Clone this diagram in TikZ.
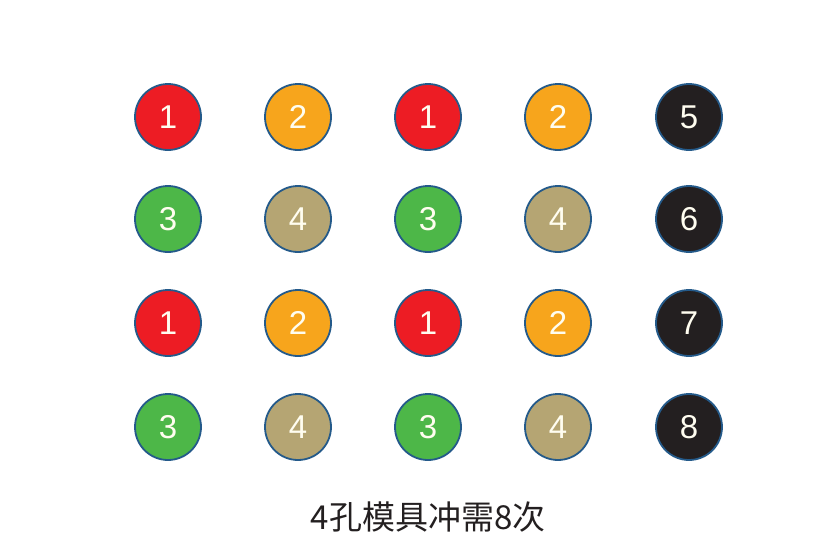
\documentclass[tikz,border=0pt]{standalone}
\usepackage{fontspec}
\setmainfont{Liberation Sans}
\newfontfamily\cjk{Noto Sans CJK SC}
\definecolor{cred}{HTML}{ED1C24}
\definecolor{corange}{HTML}{F7A51C}
\definecolor{cgreen}{HTML}{4DB748}
\definecolor{ckhaki}{HTML}{B5A573}
\definecolor{cblack}{HTML}{231F20}
\definecolor{cedge}{HTML}{245A8A}
\definecolor{ctext}{HTML}{FFFDF0}
\begin{document}
\begin{tikzpicture}[x=1pt,y=-1pt,
  ball/.style={circle,draw=cedge,line width=1.8pt,minimum size=66pt,inner sep=0pt,text=ctext,font=\fontsize{33}{33}\selectfont},
  captext/.style={font=\cjk\fontsize{33}{33}\selectfont,text=cblack}]
\useasboundingbox (0,0) rectangle (823,552);
\foreach \r/\y in {0/117,2/323}{
  \node[ball,fill=cred] (a\r1) at (168,\y) {1};
  \node[ball,fill=corange] (a\r2) at (298,\y) {2};
  \node[ball,fill=cred] (a\r3) at (428,\y) {1};
  \node[ball,fill=corange] (a\r4) at (558,\y) {2};
}
\foreach \r/\y in {1/219,3/427}{
  \node[ball,fill=cgreen] (a\r1) at (168,\y) {3};
  \node[ball,fill=ckhaki] (a\r2) at (298,\y) {4};
  \node[ball,fill=cgreen] (a\r3) at (428,\y) {3};
  \node[ball,fill=ckhaki] (a\r4) at (558,\y) {4};
}
\node[ball,fill=cblack] (b5) at (689,117) {5};
\node[ball,fill=cblack] (b6) at (689,219) {6};
\node[ball,fill=cblack] (b7) at (689,323) {7};
\node[ball,fill=cblack] (b8) at (689,427) {8};
\node[captext] (caption) at (428,517) {4孔模具冲需8次};
\end{tikzpicture}
\end{document}
